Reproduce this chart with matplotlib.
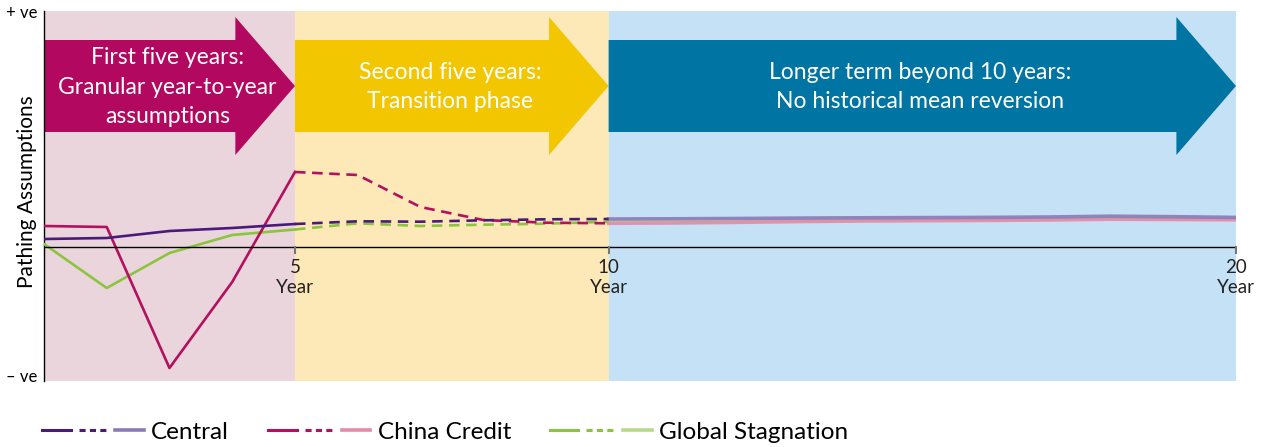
import matplotlib
matplotlib.use("Agg")
import matplotlib.pyplot as plt
from matplotlib.patches import Polygon
from matplotlib.lines import Line2D
from matplotlib.legend_handler import HandlerTuple

plt.rcParams['font.family'] = ['Lato', 'DejaVu Sans']

# ---- data (arbitrary units: + ve up, - ve down) ----
years_near = [1, 2, 3, 4, 5]
years_mid = [5, 6, 7, 8, 9, 10]
years_long = [10, 11, 12, 13, 14, 15, 16, 17, 18, 19, 20]

central_near = [8, 9, 16, 19, 23]
central_mid = [23, 25.7, 25.3, 26.7, 27.7, 28]
central_long = [28, 28.2, 28.5, 28.9, 29.2, 29.4, 29.6, 30.0, 30.8, 30.3, 29.6]

china_near = [21, 20, -121, -35, 75]
china_mid = [75, 72, 40, 27, 24.3, 23.7]
china_long = [23.7, 24.0, 24.6, 25.4, 26.0, 26.3, 26.6, 27.0, 27.8, 27.5, 27.2]

global_near = [3, -41, -6, 12, 17.5]
global_mid = [17.5, 23.7, 21, 22.3, 23.3, 25.3]
global_long = [25.3, 25.5, 26.0, 26.5, 27.0, 27.3, 27.5, 28.0, 28.8, 28.5, 28.2]

series_names = ["Central", "China Credit", "Global Stagnation"]
phase_texts = ["First five years:\nGranular year-to-year\nassumptions",
               "Second five years:\nTransition phase",
               "Longer term beyond 10 years:\nNo historical mean reversion"]
phase_bounds = [1, 5, 10, 20]
xtick_vals = [5, 10, 20]
xtick_labels = ["5\nYear", "10\nYear", "20\nYear"]

# ---- styling ----
bg_colors = ["#EBD5DC", "#FDE9B8", "#C5E1F5"]
arrow_colors = ["#B3085F", "#F2C600", "#0074A2"]
dark = ["#4A1A7B", "#B3105F", "#8CC440"]
light = ["#8B7AB8", "#E38BAB", "#B6DA8C"]

YMIN, YMAX = -134, 236

fig = plt.figure(figsize=(12.63, 4.47), dpi=100)
ax = fig.add_axes([44/1263, 66/447, (1236-44)/1263, 370/447])
ax.set_xlim(1, 20)
ax.set_ylim(YMIN, YMAX)

# phase backgrounds
for i in range(3):
    ax.axvspan(phase_bounds[i], phase_bounds[i+1], color=bg_colors[i], lw=0, zorder=0)

# arrows
body_top, body_bot = 207, 115
head_top, head_bot = 230, 92
mid_y = (body_top + body_bot) / 2
for i in range(3):
    x0, x1 = phase_bounds[i], phase_bounds[i+1]
    hx = x1 - 0.95
    pts = [(x0, body_bot), (hx, body_bot), (hx, head_bot), (x1, mid_y),
           (hx, head_top), (hx, body_top), (x0, body_top)]
    ax.add_patch(Polygon(pts, closed=True, facecolor=arrow_colors[i], edgecolor='none', zorder=1))
    ax.text((x0 + x1) / 2 - 0.03, mid_y - 1, phase_texts[i], color='white', ha='center', va='center',
            fontsize=16.5, linespacing=1.48, zorder=2)

# lines
all_near = [central_near, china_near, global_near]
all_mid = [central_mid, china_mid, global_mid]
all_long = [central_long, china_long, global_long]
lw = 1.9
handles = []
for i in [2, 1, 0]:
    ax.plot(years_long, all_long[i], color=light[i], lw=2.6, alpha=0.9, zorder=3)
for i in [2, 1, 0]:
    ax.plot(years_mid, all_mid[i], color=dark[i], lw=lw, ls=(0, (4, 2.5)), zorder=4)
    ax.plot(years_near, all_near[i], color=dark[i], lw=lw, zorder=4)
for i in range(3):
    h = (Line2D([], [], color=dark[i], lw=2.2),
         Line2D([], [], color=dark[i], lw=2.2, ls=(0, (2.0, 1.4))),
         Line2D([], [], color=light[i], lw=2.6))
    handles.append(h)

# axes
for s in ['top', 'right', 'bottom']:
    ax.spines[s].set_visible(False)
ax.spines['left'].set_color('black')
ax.spines['left'].set_linewidth(1)
ax.axhline(0, color='black', lw=1, zorder=5)
ax.set_yticks([YMIN + 5, YMAX])
ax.set_yticklabels(["\u2013 ve", "+ ve"], fontsize=12)
ax.tick_params(axis='y', length=0, pad=5)
ax.set_xticks([])
for xv, lab in zip(xtick_vals, xtick_labels):
    ax.plot([xv, xv], [0, -6], color='#777777', lw=1.5, zorder=5, clip_on=False)
    ax.text(xv, -12, lab, ha='center', va='top', fontsize=13.5, linespacing=1.2, color='#222222')
ax.set_ylabel("Pathing Assumptions", fontsize=15)
ax.yaxis.set_label_coords(-0.006, 0.513)

leg = fig.legend(handles, series_names, handler_map={tuple: HandlerTuple(ndivide=None, pad=0.33)},
                 loc='center left', bbox_to_anchor=(42/1263, 15/447), ncol=3, frameon=False,
                 fontsize=17.5, handlelength=4.2, handletextpad=0.3, columnspacing=1.6,
                 borderpad=0, borderaxespad=0)

fig.savefig("out.png", dpi=100)
